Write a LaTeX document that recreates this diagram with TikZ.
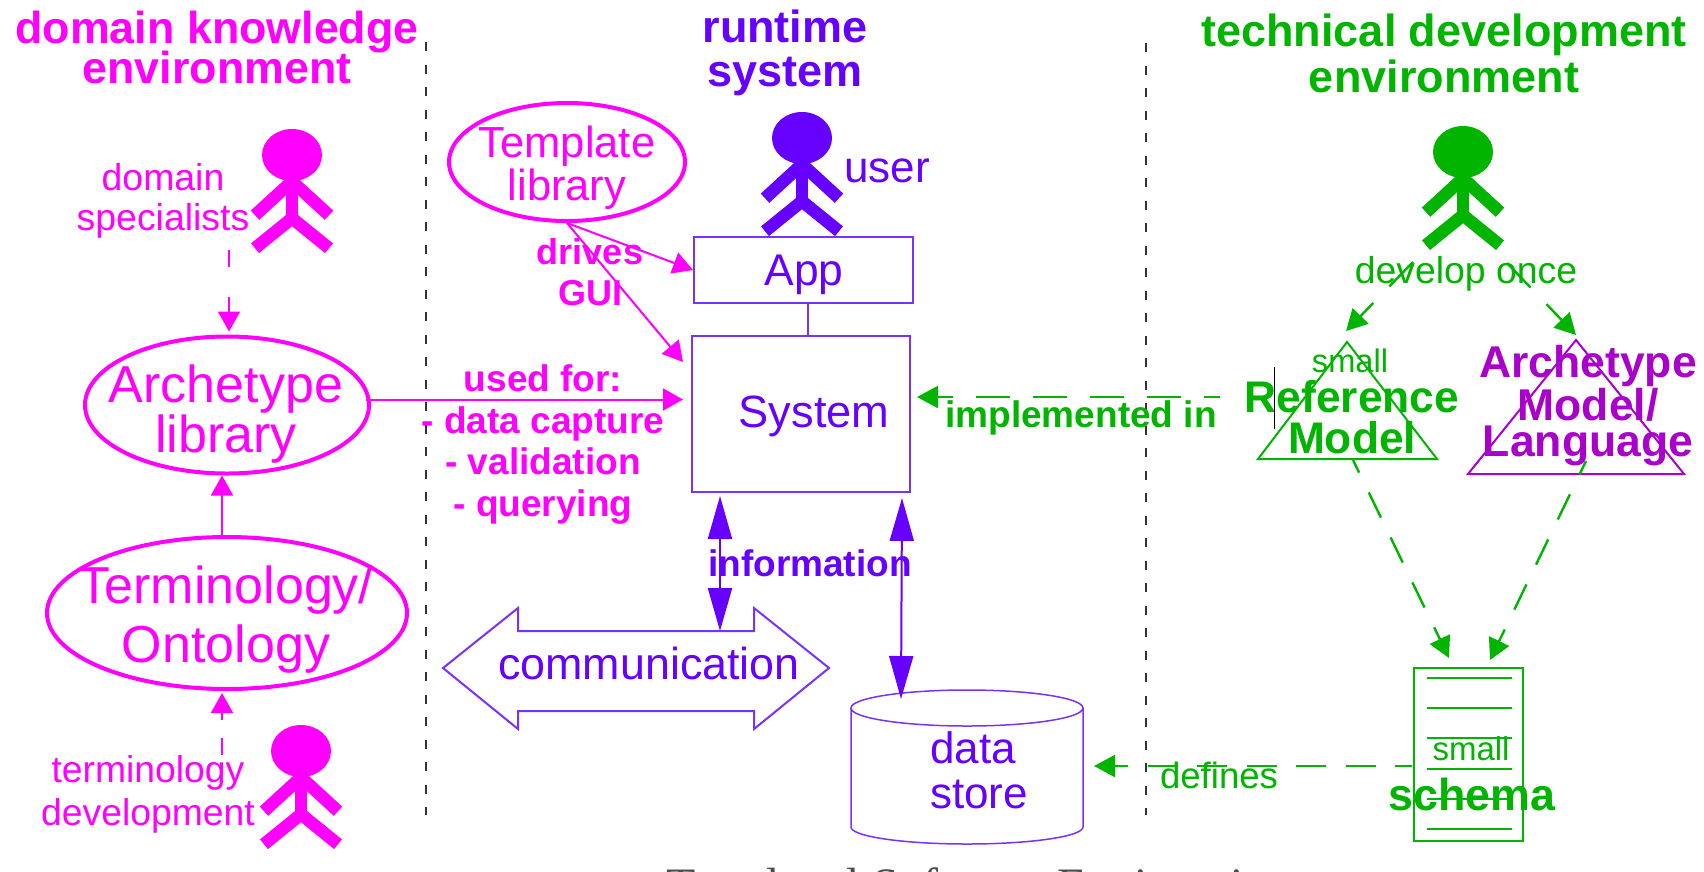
\documentclass[tikz,border=0pt]{standalone}
\usepackage{fontspec}
\setmainfont{Liberation Sans}
\newfontfamily\captionserif{Liberation Serif}
\usetikzlibrary{arrows.meta,shapes.geometric}
\definecolor{domainpink}{RGB}{255,0,255}
\definecolor{runblue}{RGB}{102,0,255}
\definecolor{boxblue}{RGB}{120,50,255}
\definecolor{techgreen}{RGB}{0,180,0}
\definecolor{langpurple}{RGB}{170,0,204}
% stick figure: name, x, y, colour
\newcommand{\person}[4]{
  \node[head node,fill=#4] (#1) at (#2,#3) {};
  \draw[limb,#4] (#1.south) ++(-37,34) -- (#1.south) -- ++(37,34);
  \draw[limb,#4] (#1.south) ++(-37,67) -- ++(37,-30) -- ++(37,30);
  \draw[limb,#4] (#1.south) -- ++(0,37);
}

\begin{document}
\begin{tikzpicture}[x=1pt,y=-1pt,
    txt/.style 2 args={font=\fontsize{#1}{#2}\selectfont,inner sep=0pt,anchor=base,align=center},
    head node/.style={ellipse,draw=none,minimum width=60pt,minimum height=52pt,inner sep=0pt},
    limb/.style={line width=12.5pt},
    oval node/.style={ellipse,draw=domainpink,line width=4pt,inner sep=0pt},
    box node/.style={rectangle,draw=boxblue,line width=2pt,inner sep=0pt},
    pink arrow/.style={domainpink,line width=2pt,-{Triangle[length=20pt,width=22pt]}},
    pink dash/.style={pink arrow,dash pattern=on 17pt off 18pt},
    green dash/.style={techgreen,line width=2.4pt,dash pattern=on 34pt off 23pt,-{Triangle[length=21pt,width=22pt]}},
    info arrow/.style={runblue,line width=2pt,{Triangle[length=43pt,width=24pt]}-{Triangle[length=43pt,width=24pt]}},
    divider/.style={black!80,line width=1.2pt,dash pattern=on 9pt off 13.5pt}]
  \clip (0,0) rectangle (1704,871);

  \node[txt={44.8}{41},text=domainpink,font=\fontsize{44.8}{41}\selectfont\bfseries] (domain title) at (217,83) {domain knowledge\\[-3pt]environment};
  \node[txt={45}{44},text=runblue,font=\fontsize{45}{44}\selectfont\bfseries] (runtime title) at (785,86) {runtime\\system};
  \node[txt={45}{46},text=techgreen,font=\fontsize{45}{46}\selectfont\bfseries] (tech title) at (1444,92) {technical development\\environment};

  \coordinate (left top) at (426,42);
  \coordinate (left end) at (426,815);
  \coordinate (right top) at (1146,43);
  \coordinate (right end) at (1146,815);
  \draw[divider] (left top) -- (left end);
  \draw[divider] (right top) -- (right end);

  \person{specialist}{292}{155}{domainpink}
  \person{termdev}{301}{751}{domainpink}
  \person{user}{802}{138}{runblue}
  \person{developer}{1463}{152}{techgreen}

  \node[txt={37.4}{40},text=domainpink] (specialists) at (163,230) {domain\\specialists};
  \node[txt={37.3}{43},text=domainpink] (termlabel) at (148,825) {terminology\\development};
  \node[txt={44}{44},text=runblue] (userlabel) at (887,182) {user};
  \node[txt={37.4}{37},text=techgreen] (develop) at (1466,283) {develop once};

  % pink ovals
  \node[oval node,minimum width=236pt,minimum height=118pt] (template) at (567,162) {};
  \node[oval node,minimum width=284pt,minimum height=137pt] (archlib) at (227,405) {};
  \node[oval node,minimum width=360pt,minimum height=152pt] (terminology) at (227,613) {};
  \node[txt={43.5}{43},text=domainpink] (template text) at (567,200) {Template\\library};
  \node[txt={52}{50},text=domainpink] (archlib text) at (226,452) {Archetype\\library};
  \node[txt={52}{59},text=domainpink] (terminology text) at (226,662) {Terminology/\\Ontology};

  \node[txt={36}{41},text=domainpink,font=\fontsize{36}{41}\selectfont\bfseries] (drives) at (590,305) {drives\\GUI};
  \node[txt={37}{41.7},text=domainpink,font=\fontsize{37}{41.7}\selectfont\bfseries] (used) at (543,516.5)
    {used for:\\- data capture\\- validation\\- querying};

  % runtime boxes
  \node[box node,minimum width=219pt,minimum height=66pt] (app) at (803.5,270) {};
  \node[box node,minimum width=218pt,minimum height=156pt] (sys) at (801,414) {};
  \node[txt={44.4}{44},text=runblue] (app text) at (804,285) {App};
  \node[txt={45.2}{44},text=runblue] (sys text) at (814,427) {System};
  \coordinate (app foot) at (808,303);
  \draw[boxblue,line width=2pt] (app foot) -- (app foot |- sys.north);

  % communication arrow
  \draw[boxblue,line width=2pt] (443,668) -- (518,608) -- (518,631) -- (754,631) -- (754,608)
    -- (829,668) -- (754,729) -- (754,711) -- (518,711) -- (518,729) -- cycle;
  \node[txt={44.8}{45},text=runblue] (comm) at (649,679) {communication};

  % data store
  \draw[boxblue,line width=1.5pt] (851,708) -- (851,827) arc[start angle=180,end angle=360,x radius=116pt,y radius=17pt]
    -- (1083,708);
  \draw[boxblue,line width=1.5pt] (967,708) ellipse[x radius=116pt,y radius=18pt];
  \node[txt={44}{45},text=runblue,align=left,anchor=base west] (store) at (930,808) {data\\store};

  \coordinate (info a) at (720,496);
  \coordinate (info b) at (720,631);
  \coordinate (info c) at (902,498);
  \coordinate (store in) at (901,699);
  \path[info arrow] (info a) edge (info b) (info c) edge (store in);
  \node[txt={37}{37},text=runblue,font=\fontsize{37}{37}\selectfont\bfseries] (info) at (810,576) {information};

  % pink connectors
  \coordinate (domain out) at (229,250);
  \coordinate (arch out) at (366,399.5);
  \coordinate (sys in) at (683,362);
  \coordinate (term up) at (222,537);
  \coordinate (termdev out) at (222,755);
  \path[pink arrow]
  (template.south) edge (app.west)
  edge (sys in)
  (arch out) edge[shorten >=8pt] (arch out -| sys.west)
  (term up) edge (term up |- archlib.south);
  \path[pink dash]
  (domain out) edge[shorten >=3pt,dash pattern=on 17pt off 30pt] (domain out |- archlib.north)
  (termdev out) edge[shorten >=2pt] (term up |- terminology.south);

  % technical side
  \coordinate (rm top) at (1347,342);
  \coordinate (rm left) at (1258,459);
  \coordinate (rm right) at (1437,459);
  \coordinate (am top) at (1576,340);
  \coordinate (am left) at (1468,474);
  \coordinate (am right) at (1684,474);
  \draw[techgreen,line width=2pt] (rm top) -- (rm left) -- (rm right) -- cycle;
  \draw[langpurple,line width=2pt] (am top) -- (am left) -- (am right) -- cycle;
  \node[txt={32.6}{33},text=techgreen] (rm small) at (1350,372) {small};
  \node[txt={44.3}{41},text=techgreen,font=\fontsize{44.3}{41}\selectfont\bfseries] (rm) at (1352,453) {Reference\\Model};
  \node[txt={44.5}{40},text=langpurple,font=\fontsize{44.5}{40}\selectfont\bfseries] (am) at (1588,456) {Archetype\\Model/\\[-4pt]Language};
  \coordinate (cursor top) at (1274,367);
  \coordinate (cursor end) at (1274,429);
  \draw[black,line width=1pt] (cursor top) -- (cursor end);

  \node[rectangle,draw=techgreen,line width=2.5pt,inner sep=0pt,minimum width=109pt,minimum height=173pt] (schema box) at (1468.5,754.5) {};
  \foreach \rowy in {678,708,738,769,799,829}
    \draw[techgreen,line width=2.4pt] (1427,\rowy) -- (1512,\rowy);
  \node[txt={33}{33},text=techgreen] (schema small) at (1471,760) {small};
  \node[txt={44.8}{45},text=techgreen,font=\fontsize{44.8}{45}\selectfont\bfseries] (schema) at (1472,810) {schema};

  \coordinate (dev left) at (1413,262);
  \coordinate (dev right) at (1507,263);
  \coordinate (rm tip) at (1346,331);
  \coordinate (am tip) at (1576,335);
  \coordinate (impl out) at (1220,397);
  \coordinate (defines out) at (1412,766);
  \coordinate (defines in) at (1094,766);
  \coordinate (rm foot) at (1353,460);
  \coordinate (am foot) at (1586,461);
  \coordinate (schema a) at (1449,658);
  \coordinate (schema b) at (1490,660);
  \path[green dash]
  (dev left) edge (rm tip)
  (dev right) edge (am tip)
  (rm foot) edge[dash pattern=on 28pt off 22pt,dash phase=14pt] (schema a)
  (am foot) edge[dash pattern=on 28pt off 22pt,dash phase=13pt] (schema b)
  (impl out) edge[dash phase=18pt,shorten >=6pt] (impl out -| sys.east)
  (defines out) edge[dash pattern=on 30pt off 19.5pt,dash phase=13pt] (defines in);

  \node[txt={37}{37},text=techgreen,font=\fontsize{37}{37}\selectfont\bfseries] (implemented) at (1081,427) {implemented in};
  \node[txt={36.6}{37},text=techgreen] (defines) at (1219,788) {defines};

  \node[txt={48}{48},anchor=base west,text=black!70] (caption) at (666,901) {\captionserif Two-level Software Engineering};
\end{tikzpicture}
\end{document}
